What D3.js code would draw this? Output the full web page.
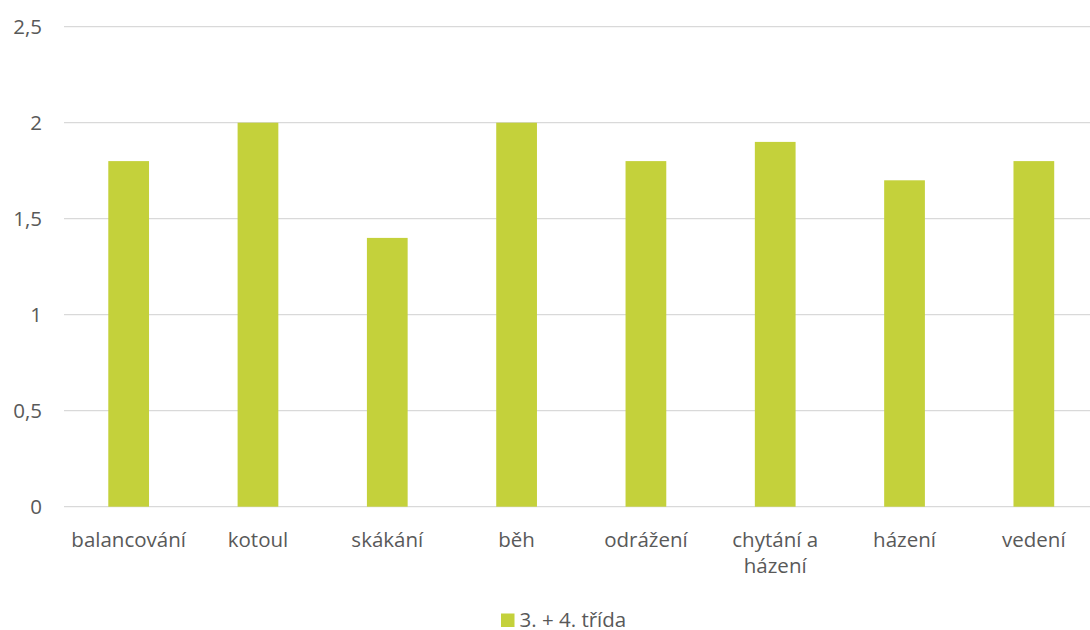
<!DOCTYPE html>
<html><head><meta charset="utf-8">
<script src="https://cdn.jsdelivr.net/npm/d3@7"></script>
<style>body{margin:0;background:#fff}svg{display:block}text{font-family:"Open Sans",Lato,sans-serif;fill:#595959}</style>
</head><body><svg id="c" width="1090" height="630"></svg>
<script>
const categories = ["balancování","kotoul","skákání","běh","odrážení","chytání a házení","házení","vedení"];
const values = [1.8,2,1.4,2,1.8,1.9,1.7,1.8];
const seriesName = "3. + 4. třída";
const yTicks = [0,0.5,1,1.5,2,2.5];
const yTickLabels = ["0","0,5","1","1,5","2","2,5"];

const svg = d3.select("#c");
const x = d3.scaleBand().domain(categories).range([64,1098.5]).paddingInner(0.685).paddingOuter(0.3425);
const y = d3.scaleLinear().domain([0,2.5]).range([506.7,26.7]);
const color = "#c4d13b";
const fs = 20.5;

svg.append("g").selectAll("line").data(yTicks).join("line")
  .attr("x1",64).attr("x2",1090).attr("y1",d=>y(d)).attr("y2",d=>y(d))
  .attr("stroke","#d9d9d9").attr("stroke-width",1.3);

svg.append("g").selectAll("text").data(yTicks).join("text")
  .attr("x",42).attr("y",d=>y(d)).attr("dy","0.36em").attr("text-anchor","end")
  .attr("font-size",fs).text((d,i)=>yTickLabels[i]);

svg.append("g").selectAll("rect").data(values).join("rect")
  .attr("x",(d,i)=>x(categories[i])).attr("width",x.bandwidth())
  .attr("y",d=>y(d)).attr("height",d=>y(0)-y(d)).attr("fill",color);

const wrap = {"chytání a házení":["chytání a","házení"]};
svg.append("g").selectAll("text").data(categories).join("text")
  .attr("x",d=>x(d)+x.bandwidth()/2).attr("y",547).attr("text-anchor","middle").attr("font-size",fs)
  .each(function(d){
    const lines = wrap[d]||[d];
    d3.select(this).selectAll("tspan").data(lines).join("tspan")
      .attr("x",x(d)+x.bandwidth()/2).attr("dy",(l,i)=>i?26:0).text(l=>l);
  });

const lg = svg.append("g");
lg.append("rect").attr("x",501).attr("y",613.5).attr("width",13.5).attr("height",13.5).attr("fill",color);
lg.append("text").attr("x",519.5).attr("y",626.5).attr("font-size",fs).text(seriesName);
</script></body></html>
